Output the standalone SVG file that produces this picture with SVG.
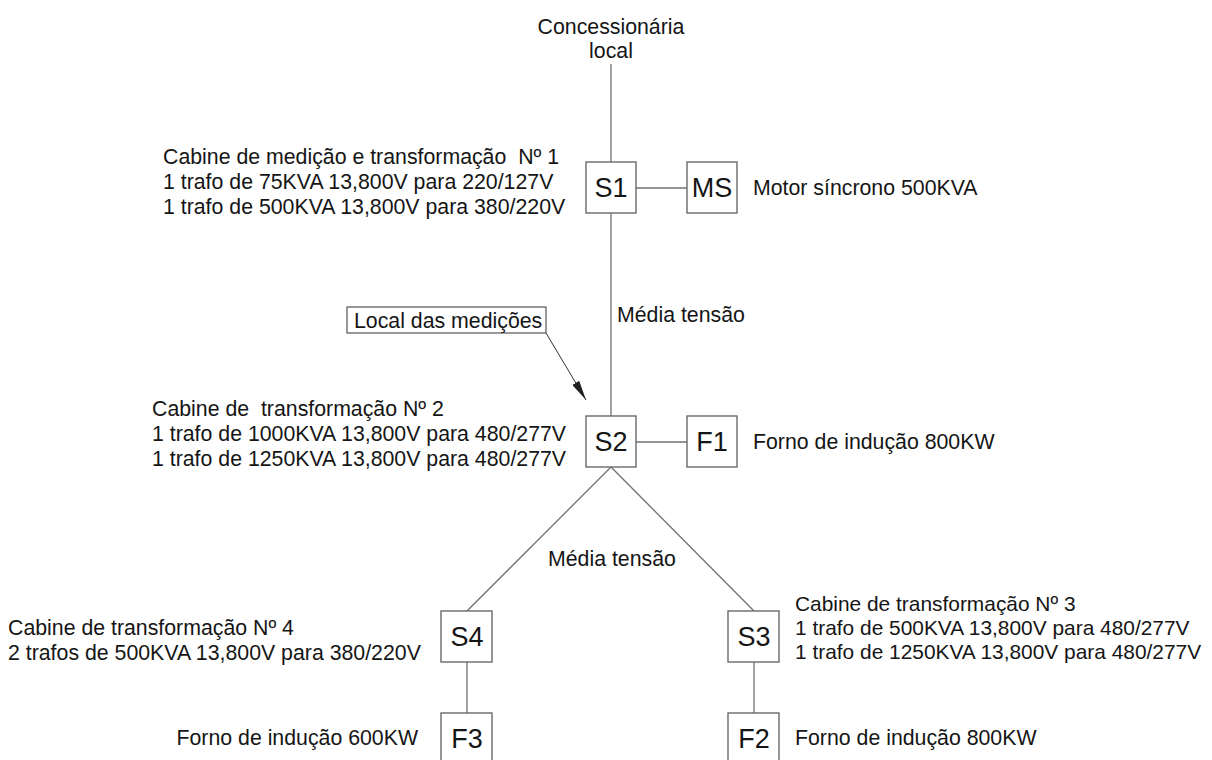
<svg xmlns="http://www.w3.org/2000/svg" width="1212" height="760" viewBox="0 0 1212 760">
<style>
text{font-family:"Liberation Sans",Arial,sans-serif;fill:#151515;white-space:pre}
.t{font-size:21.3px;dominant-baseline:central}
.s{font-size:20.9px}
.n{font-size:27px;text-anchor:middle;dominant-baseline:central}
.box{fill:#fff;stroke:#6a6a6a;stroke-width:1.4}
.ln{stroke:#707070;stroke-width:1.3;fill:none}
</style>
<defs>
<marker id="ah" viewBox="0 0 20 8" refX="20" refY="4" markerWidth="20" markerHeight="8" markerUnits="userSpaceOnUse" orient="auto">
<path d="M0,0 L20,4 L0,8 Z" fill="#222"/>
</marker>
</defs>
<rect width="1212" height="760" fill="#fff"/>
<g id="connectors">
<line class="ln" x1="611" y1="64" x2="611" y2="162"/>
<line class="ln" x1="636" y1="188" x2="687" y2="188"/>
<line class="ln" x1="611" y1="213" x2="611" y2="416"/>
<line class="ln" x1="636" y1="442" x2="687" y2="442"/>
<line class="ln" x1="611" y1="467" x2="467" y2="611"/>
<line class="ln" x1="611" y1="467" x2="754" y2="611"/>
<line class="ln" x1="467" y1="662" x2="467" y2="713"/>
<line class="ln" x1="754" y1="662" x2="754" y2="713"/>
<line x1="546" y1="333" x2="586" y2="400" stroke="#333" stroke-width="1" marker-end="url(#ah)"/>
</g>
<g id="concessionaria">
<text class="t" x="611" y="27" text-anchor="middle">Concessionária</text>
<text class="t" x="611" y="51" text-anchor="middle">local</text>
</g>
<g id="S1">
<rect class="box" x="586" y="162" width="50" height="51"/>
<text class="n" x="611" y="188">S1</text>
<text class="t" x="163" y="157">Cabine de medição e transformação  Nº 1</text>
<text class="t" x="163" y="182">1 trafo de 75KVA 13,800V para 220/127V</text>
<text class="t" x="163" y="207">1 trafo de 500KVA 13,800V para 380/220V</text>
</g>
<g id="MS">
<rect class="box" x="687" y="162" width="50" height="51"/>
<text class="n" x="712" y="188">MS</text>
<text class="t" x="753" y="188">Motor síncrono 500KVA</text>
</g>
<g id="media1">
<text class="t" x="617" y="315">Média tensão</text>
</g>
<g id="local">
<rect x="347" y="307" width="199" height="26" fill="#fff" stroke="#555" stroke-width="1.2"/>
<text class="t" x="354" y="321">Local das medições</text>
</g>
<g id="S2">
<rect class="box" x="586" y="416" width="50" height="51"/>
<text class="n" x="611" y="442">S2</text>
<text class="t" x="152" y="409">Cabine de  transformação Nº 2</text>
<text class="t" x="152" y="434">1 trafo de 1000KVA 13,800V para 480/277V</text>
<text class="t" x="152" y="459">1 trafo de 1250KVA 13,800V para 480/277V</text>
</g>
<g id="F1">
<rect class="box" x="687" y="416" width="50" height="51"/>
<text class="n" x="712" y="442">F1</text>
<text class="t" x="753" y="442">Forno de indução 800KW</text>
</g>
<g id="media2">
<text class="t" x="548" y="559">Média tensão</text>
</g>
<g id="S4">
<rect class="box" x="441" y="611" width="51" height="51"/>
<text class="n" x="467" y="637">S4</text>
<text class="t" x="8" y="628">Cabine de transformação Nº 4</text>
<text class="t" x="8" y="653">2 trafos de 500KVA 13,800V para 380/220V</text>
</g>
<g id="F3">
<rect class="box" x="441" y="713" width="51" height="52"/>
<text class="n" x="467" y="739">F3</text>
<text class="t" x="418" y="738" text-anchor="end">Forno de indução 600KW</text>
</g>
<g id="S3">
<rect class="box" x="728" y="611" width="51" height="51"/>
<text class="n" x="754" y="637">S3</text>
<text class="t s" x="795" y="603">Cabine de transformação Nº 3</text>
<text class="t s" x="795" y="627">1 trafo de 500KVA 13,800V para 480/277V</text>
<text class="t s" x="795" y="651">1 trafo de 1250KVA 13,800V para 480/277V</text>
</g>
<g id="F2">
<rect class="box" x="728" y="713" width="51" height="52"/>
<text class="n" x="754" y="739">F2</text>
<text class="t" x="795" y="738">Forno de indução 800KW</text>
</g>
</svg>
